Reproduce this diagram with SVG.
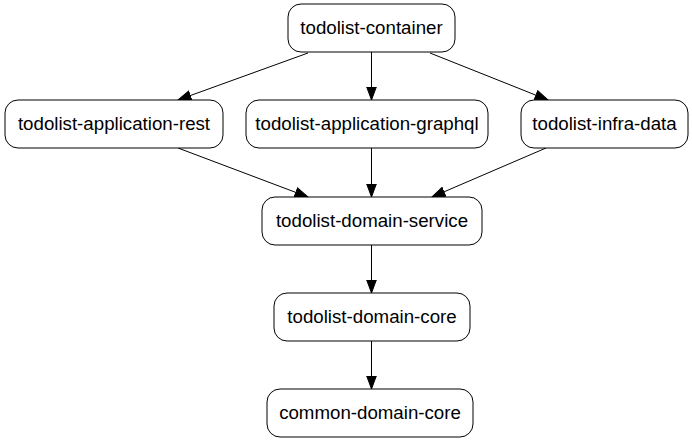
<svg xmlns="http://www.w3.org/2000/svg" width="692" height="443" viewBox="0 0 692 443">
<style>
.n rect{fill:#fff;stroke:#000;stroke-width:1}
.n text{font-family:"Liberation Sans",Arial,sans-serif;font-size:18.7px;text-anchor:middle;fill:#000}
.e line{stroke:#000;stroke-width:1;fill:none;marker-end:url(#ah)}
</style>
<defs>
<marker id="ah" markerUnits="userSpaceOnUse" markerWidth="15" markerHeight="12" refX="13.5" refY="6" orient="auto">
<path d="M0.5,1.2 L13.5,6 L0.5,10.8 z" fill="#000" stroke="#000"/>
</marker>
</defs>
<rect width="692" height="443" fill="#fff"/>
<g id="edges" class="e">
<line x1="371.5" y1="52" x2="371.5" y2="100"/>
<line x1="308" y1="53" x2="178" y2="100"/>
<line x1="430" y1="53" x2="548" y2="100"/>
<line x1="178" y1="148" x2="308" y2="197"/>
<line x1="371.5" y1="148" x2="371.5" y2="197"/>
<line x1="546" y1="148" x2="432" y2="197"/>
<line x1="371.5" y1="245" x2="371.5" y2="293"/>
<line x1="371.5" y1="341" x2="371.5" y2="389"/>
</g>
<g id="todolist-container" class="n"><rect x="288" y="4" width="167" height="48" rx="13"/><text x="371.5" y="34">todolist-container</text></g>
<g id="todolist-application-rest" class="n"><rect x="5" y="100" width="218" height="48" rx="13"/><text x="114" y="130">todolist-application-rest</text></g>
<g id="todolist-application-graphql" class="n"><rect x="246" y="100" width="242" height="48" rx="13"/><text x="367" y="130">todolist-application-graphql</text></g>
<g id="todolist-infra-data" class="n"><rect x="521" y="100" width="167" height="48" rx="13"/><text x="604.5" y="130">todolist-infra-data</text></g>
<g id="todolist-domain-service" class="n"><rect x="262" y="197" width="220" height="48" rx="13"/><text x="372" y="227">todolist-domain-service</text></g>
<g id="todolist-domain-core" class="n"><rect x="274" y="293" width="196" height="48" rx="13"/><text x="372" y="323">todolist-domain-core</text></g>
<g id="common-domain-core" class="n"><rect x="267" y="389" width="206" height="48" rx="13"/><text x="370" y="419">common-domain-core</text></g>
</svg>
